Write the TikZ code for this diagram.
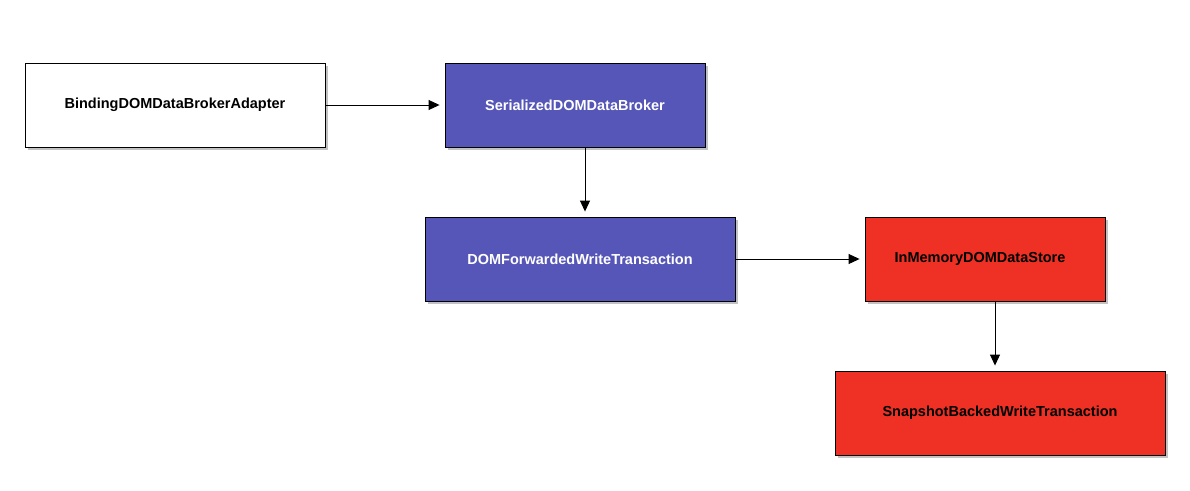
\documentclass[tikz,border=0pt]{standalone}
\usepackage{fontspec}
\setmainfont{Liberation Sans}
\usetikzlibrary{arrows.meta,shadows}
\definecolor{boxblue}{HTML}{5656B8}
\definecolor{boxred}{HTML}{EE3124}
\tikzset{
  box/.style={draw=black, line width=0.9pt, minimum height=84pt, inner sep=0pt,
    font=\fontsize{14.5}{17}\selectfont\bfseries,
    drop shadow={shadow xshift=3pt, shadow yshift=-3pt, opacity=0.4, fill=black!60}},
  whitebox/.style={box, fill=white, text=black},
  bluebox/.style={box, fill=boxblue, text=white},
  redbox/.style={box, fill=boxred, text=black},
  conn/.style={draw=black, line width=0.9pt, -{Triangle[length=11pt,width=10pt]}, shorten >=5pt}
}
\begin{document}
\begin{tikzpicture}[x=1pt,y=-1pt]
\useasboundingbox (0,0) rectangle (1190,490);
\node[whitebox, minimum width=300pt] (a) at (175,105) {BindingDOMDataBrokerAdapter};
\node[bluebox, minimum width=260pt] (b) at (575,105) {SerializedDOMDataBroker};
\node[bluebox, minimum width=310pt] (c) at (580,259) {DOMForwardedWriteTransaction};
\node[redbox, minimum width=240pt] (d) at (985,259) {\hspace*{-10pt}InMemoryDOMDataStore};
\node[redbox, minimum width=330pt] (e) at (1000,413) {SnapshotBackedWriteTransaction};
\draw[conn] (a.east) -- (b.west);
\draw[conn] (b.south -| 585,0) -- (c.north -| 585,0);
\draw[conn] (c.east) -- (d.west);
\draw[conn] (d.south -| 995,0) -- (e.north -| 995,0);
\end{tikzpicture}
\end{document}
